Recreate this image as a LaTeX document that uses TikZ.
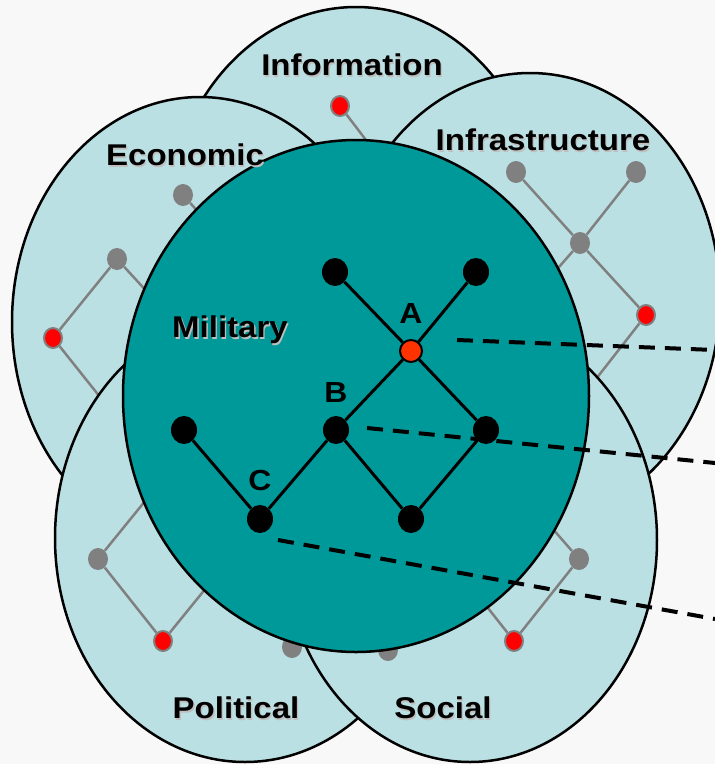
\documentclass[tikz,border=0pt]{standalone}
\usepackage{fontspec}
\setmainfont{Liberation Sans}[FakeStretch=1.1]
\usetikzlibrary{shapes.geometric}
\definecolor{bgc}{HTML}{F8F8F8}
\definecolor{lightteal}{HTML}{BBE0E3}
\definecolor{darkteal}{HTML}{009999}
\definecolor{gnodec}{HTML}{808080}
\definecolor{rnodec}{HTML}{FF0000}
\definecolor{anodec}{HTML}{FF3300}
\begin{document}
\begin{tikzpicture}[x=1pt,y=-1pt,
  dombox/.style={ellipse, draw=black, line width=2.5pt, fill=lightteal, inner sep=0pt},
  milbox/.style={ellipse, draw=black, line width=2.5pt, fill=darkteal, inner sep=0pt},
  mnode/.style={ellipse, fill=black, inner sep=0pt, minimum width=26pt, minimum height=28pt},
  anode/.style={circle, fill=anodec, draw=black, line width=2pt, inner sep=0pt, minimum size=22pt},
  gnode/.style={ellipse, fill=gnodec, inner sep=0pt, minimum width=20pt, minimum height=22pt},
  rnode/.style={ellipse, fill=rnodec, draw=gnodec, line width=2pt, inner sep=0pt, minimum width=18pt, minimum height=20pt},
  mline/.style={draw=black, line width=3pt},
  gline/.style={draw=gnodec, line width=2.5pt},
  dline/.style={draw=black, line width=4pt, dash pattern=on 16pt off 10pt},
  lbl/.style={font=\fontsize{30}{36}\selectfont\bfseries, text=black, inner sep=0pt},
  lblsh/.style={font=\fontsize{30}{36}\selectfont\bfseries, text=black!25, inner sep=0pt},
  lettr/.style={font=\fontsize{29}{34}\selectfont\bfseries, text=black, inner sep=0pt}
]
\useasboundingbox (0,0) rectangle (715,764);
\fill[bgc] (0,0) rectangle (715,764);

% Information
\node[dombox, minimum width=380pt, minimum height=450pt] (info) at (356,232) {};
\node[rnode] (infoR) at (340,106) {};
\coordinate (infoH) at (385,165);
\draw[gline] (infoR) -- (infoH);

% Economic
\node[dombox, minimum width=376pt, minimum height=450pt] (econ) at (200,322) {};
\node[gnode] (econG1) at (183,195) {};
\node[gnode] (econG2) at (117,259) {};
\node[rnode] (econR) at (53,338) {};
\coordinate (econH1) at (218,234);
\coordinate (econH2) at (162,308);
\coordinate (econH3) at (112,412);
\draw[gline] (econG1) -- (econH1);
\draw[gline] (econG2) -- (econR);
\draw[gline] (econG2) -- (econH2);
\draw[gline] (econR) -- (econH3);

% Infrastructure
\node[dombox, minimum width=380pt, minimum height=450pt] (infra) at (530,298) {};
\node[gnode] (infG1) at (516,172) {};
\node[gnode] (infG2) at (636,172) {};
\node[gnode] (infG3) at (580,243) {};
\node[rnode] (infR) at (646,315) {};
\coordinate (infH1) at (545,283);
\coordinate (infH2) at (585,393);
\draw[gline] (infG1) -- (infG3);
\draw[gline] (infG2) -- (infG3);
\draw[gline] (infG3) -- (infR);
\draw[gline] (infG3) -- (infH1);
\draw[gline] (infR) -- (infH2);

% Political
\node[dombox, minimum width=380pt, minimum height=448pt] (pol) at (245,538) {};
\node[gnode] (polG1) at (98,559) {};
\node[rnode] (polR) at (163,641) {};
\node[gnode] (polG2) at (292,647) {};
\coordinate (polH1) at (150,495);
\coordinate (polH2) at (215,577);
\draw[gline] (polG1) -- (polH1);
\draw[gline] (polG1) -- (polR);
\draw[gline] (polR) -- (polH2);

% Social
\node[dombox, minimum width=374pt, minimum height=444pt] (soc) at (470,540) {};
\node[gnode] (socG1) at (579,559) {};
\node[rnode] (socR) at (514,641) {};
\node[gnode] (socG2) at (388,650) {};
\coordinate (socH1) at (545,520);
\coordinate (socH2) at (484,603);
\draw[gline] (socG1) -- (socH1);
\draw[gline] (socG1) -- (socR);
\draw[gline] (socR) -- (socH2);

% Military
\node[milbox, minimum width=466pt, minimum height=512pt] (mil) at (356,396) {};
\node[mnode] (mTL) at (335,272) {};
\node[mnode] (mTR) at (476,272) {};
\node[anode] (mA) at (411,351) {};
\node[mnode] (mB) at (336,430) {};
\node[mnode] (mR) at (486,430) {};
\node[mnode] (mL) at (184,430) {};
\node[mnode] (mC) at (260,519) {};
\node[mnode] (mBM) at (411,519) {};
\draw[mline] (mTL) -- (mA);
\draw[mline] (mTR) -- (mA);
\draw[mline] (mA) -- (mB);
\draw[mline] (mA) -- (mR);
\draw[mline] (mB) -- (mC);
\draw[mline] (mB) -- (mBM);
\draw[mline] (mR) -- (mBM);
\draw[mline] (mL) -- (mC);
\node[lettr] (labA) at (411,314) {A};
\node[lettr] (labB) at (336,393) {B};
\node[lettr] (labC) at (260,481) {C};

% dashed leaders
\coordinate (dA0) at (457,340);
\coordinate (dA1) at (715,350);
\coordinate (dB0) at (367,428);
\coordinate (dB1) at (715,463);
\coordinate (dC0) at (278,540);
\coordinate (dC1) at (715,619);
\draw[dline] (dA0) -- (dA1);
\draw[dline] (dB0) -- (dB1);
\draw[dline] (dC0) -- (dC1);

% labels
\node[lblsh] (tInfoS) at (353.3,66.3) {Information};
\node[lbl] (tInfo) at (352,65) {Information};
\node[lblsh] (tEconS) at (186.3,156.3) {Economic};
\node[lbl] (tEcon) at (185,155) {Economic};
\node[lblsh] (tInfraS) at (544.3,141.3) {Infrastructure};
\node[lbl] (tInfra) at (543,140) {Infrastructure};
\node[lblsh] (tMilS) at (231.3,331.3) {Military};
\node[lbl] (tMil) at (230,330) {Military};
\node[lblsh] (tPolS) at (237.3,709.3) {Political};
\node[lbl] (tPol) at (236,708) {Political};
\node[lblsh] (tSocS) at (444.3,709.3) {Social};
\node[lbl] (tSoc) at (443,708) {Social};
\end{tikzpicture}
\end{document}
